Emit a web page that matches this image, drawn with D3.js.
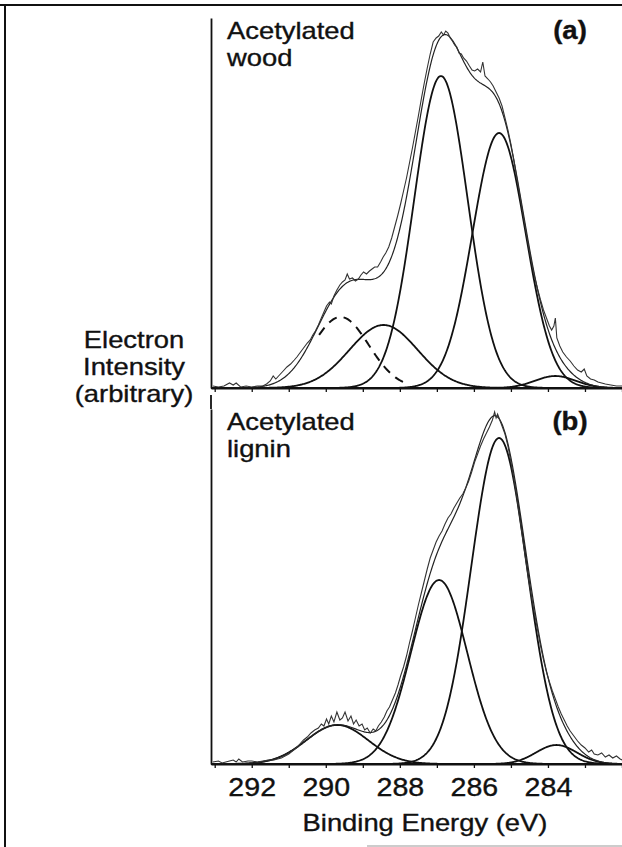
<!DOCTYPE html>
<html>
<head>
<meta charset="utf-8">
<script src="https://cdnjs.cloudflare.com/ajax/libs/d3/7.8.5/d3.min.js"></script>
<style>
body { margin: 0; background: #fff; }
svg { display: block; }
text { font-family: "Liberation Sans", Arial, Helvetica, sans-serif; fill: #111; stroke: #111; stroke-width: 0.35px; }
</style>
</head>
<body>
<svg id="chart" width="622" height="847"></svg>
<script>
// energy axis
var tickValues = [293, 292, 291, 290, 289, 288, 287, 286, 285, 284, 283, 282];
var tickLabels = [292, 290, 288, 286, 284];

// (a) acetylated wood: fitted components (centre eV, height, sigma eV)
var woodCentres = [286.89, 285.32, 288.44, 283.8];
var woodHeights = [312, 255, 63, 12];
var woodSigmas = [0.72, 0.72, 0.92, 0.55];
// dashed component and the span over which it is drawn
var woodDashedPeak = [289.6, 71, 0.76];
var woodDashedSpan = [290.2, 287.85];
// measured spectrum [eV, counts]
var woodData = [[293.05,2],[292.9,1],[292.75,2],[292.6,5],[292.5,3],[292.42,5],[292.3,1],[292.15,2],[292.0,1],[291.85,2],[291.7,2],[291.6,4],[291.5,7],[291.42,12],[291.35,9],[291.25,13],[291.15,17],[291.05,21],[290.95,24],[290.85,28],[290.78,31],[290.7,35],[290.6,40],[290.5,45],[290.42,48],[290.35,53],[290.28,57],[290.2,63],[290.12,70],[290.05,76],[289.98,82],[289.9,86],[289.85,84],[289.78,92],[289.7,98],[289.62,103],[289.55,106],[289.48,108],[289.42,114],[289.36,109],[289.28,110],[289.2,107],[289.12,109],[289.05,113],[288.98,116],[288.9,114],[288.82,117],[288.75,119],[288.68,121],[288.6,121],[288.52,126],[288.45,131],[288.38,135],[288.3,141],[288.22,150],[288.14,161],[288.06,172],[287.98,184],[287.9,197],[287.82,210],[287.74,225],[287.66,240],[287.58,256],[287.5,272],[287.42,289],[287.34,305],[287.26,320],[287.18,334],[287.1,346],[287.02,350],[286.95,352],[286.88,356],[286.82,353],[286.76,357],[286.7,355],[286.64,350],[286.58,347],[286.52,343],[286.46,341],[286.4,335],[286.34,334],[286.28,330],[286.2,327],[286.12,322],[286.05,318],[285.98,317],[285.9,319],[285.82,316],[285.76,326],[285.7,312],[285.62,309],[285.55,306],[285.48,302],[285.4,296],[285.32,290],[285.24,282],[285.16,270],[285.08,258],[285.0,244],[284.92,228],[284.84,210],[284.76,193],[284.68,175],[284.6,158],[284.52,141],[284.44,125],[284.36,111],[284.28,99],[284.2,88],[284.12,78],[284.04,70],[283.96,62],[283.9,58],[283.84,62],[283.8,70],[283.76,50],[283.68,42],[283.6,36],[283.5,31],[283.4,27],[283.3,22],[283.2,18],[283.1,16],[283.02,19],[282.95,12],[282.85,9],[282.75,8],[282.65,6],[282.55,5],[282.45,4],[282.3,3],[282.15,2],[282.0,2]];

// (b) acetylated lignin
var ligninCentres = [285.32, 286.94, 289.69, 283.77];
var ligninHeights = [326, 184, 39, 19];
var ligninSigmas = [0.75, 0.76, 0.84, 0.55];
var ligninData = [[293.05,2],[292.9,3],[292.8,1],[292.7,2],[292.6,3],[292.5,4],[292.42,2],[292.35,5],[292.25,2],[292.1,3],[292.0,3],[291.85,2],[291.7,3],[291.55,4],[291.4,4],[291.3,5],[291.2,6],[291.1,8],[291.0,10],[290.9,13],[290.8,16],[290.7,20],[290.6,24],[290.5,27],[290.4,31],[290.3,34],[290.2,36],[290.12,40],[290.05,38],[289.98,45],[289.92,40],[289.85,48],[289.78,42],[289.7,52],[289.62,44],[289.55,46],[289.48,52],[289.4,43],[289.32,48],[289.25,40],[289.18,44],[289.1,38],[289.02,40],[288.95,34],[288.88,36],[288.8,31],[288.72,35],[288.65,33],[288.58,38],[288.5,42],[288.42,47],[288.35,53],[288.28,57],[288.2,64],[288.12,71],[288.05,79],[287.98,88],[287.9,97],[287.82,108],[287.74,121],[287.66,133],[287.58,146],[287.5,159],[287.42,171],[287.34,183],[287.26,195],[287.18,206],[287.1,214],[287.02,222],[286.94,228],[286.86,233],[286.78,240],[286.7,246],[286.62,250],[286.54,256],[286.46,261],[286.38,266],[286.3,270],[286.22,276],[286.14,283],[286.06,292],[285.98,302],[285.9,310],[285.82,318],[285.74,325],[285.66,331],[285.58,337],[285.5,344],[285.44,352],[285.4,346],[285.36,350],[285.3,344],[285.24,338],[285.16,330],[285.08,318],[285.0,302],[284.92,285],[284.84,266],[284.76,246],[284.68,225],[284.6,204],[284.52,184],[284.44,166],[284.36,150],[284.28,134],[284.2,118],[284.12,104],[284.04,92],[283.96,82],[283.88,73],[283.8,65],[283.72,57],[283.64,50],[283.56,44],[283.48,38],[283.4,33],[283.3,28],[283.2,23],[283.1,19],[283.0,16],[282.9,12],[282.82,14],[282.75,10],[282.65,9],[282.55,11],[282.45,7],[282.35,9],[282.25,6],[282.15,8],[282.05,5],[282.0,4]];

var svg = d3.select("#chart");

// frame of the scanned figure
svg.append("line").attr("x1", 0).attr("y1", 5).attr("x2", 622).attr("y2", 5)
	.attr("stroke", "#111").attr("stroke-width", 2);
svg.append("line").attr("x1", 5).attr("y1", 5).attr("x2", 5).attr("y2", 847)
	.attr("stroke", "#111").attr("stroke-width", 2);
svg.append("line").attr("x1", 367).attr("y1", 846).attr("x2", 622).attr("y2", 846)
	.attr("stroke", "#bbb").attr("stroke-width", 1.5);

var x = d3.scaleLinear().domain([293.1, 282]).range([211, 622]);
var grid = d3.range(293.1, 281.98, -0.02);

function gauss(e, c, h, s) {
	return h * Math.exp(-0.5 * Math.pow((e - c) / s, 2));
}

// the scanned lettering is a little wider than Liberation Sans
function widen(sel, k) {
	sel.each(function () {
		var w = this.getComputedTextLength();
		if (w > 0) d3.select(this).attr("textLength", w * k).attr("lengthAdjust", "spacingAndGlyphs");
	});
}

function drawPanel(p) {
	var y = d3.scaleLinear().domain([0, p.ymax]).range([p.bottom, p.top]);
	var g = svg.append("g");
	var line = d3.line()
		.x(function (d) { return x(d[0]); })
		.y(function (d) { return y(d[1]); });

	// components
	p.centres.forEach(function (c, i) {
		var pts = grid.map(function (e) {
			return [e, gauss(e, c, p.heights[i], p.sigmas[i])];
		});
		g.append("path").datum(pts).attr("d", line)
			.attr("fill", "none").attr("stroke", "#111").attr("stroke-width", 1.8);
	});

	if (p.dashed) {
		var dpts = grid.filter(function (e) {
			return e <= p.dashedSpan[0] && e >= p.dashedSpan[1];
		}).map(function (e) {
			return [e, gauss(e, p.dashed[0], p.dashed[1], p.dashed[2])];
		});
		g.append("path").datum(dpts).attr("d", line)
			.attr("fill", "none").attr("stroke", "#111").attr("stroke-width", 2)
			.attr("stroke-dasharray", "9,7");
	}

	// fit envelope
	var env = grid.map(function (e) {
		var sum = 0;
		p.centres.forEach(function (c, i) { sum += gauss(e, c, p.heights[i], p.sigmas[i]); });
		if (p.dashed) sum += gauss(e, p.dashed[0], p.dashed[1], p.dashed[2]);
		return [e, sum];
	});
	g.append("path").datum(env).attr("d", line)
		.attr("fill", "none").attr("stroke", "#222").attr("stroke-width", 1.2);

	// measured spectrum
	g.append("path").datum(p.data).attr("d", line)
		.attr("fill", "none").attr("stroke", "#333").attr("stroke-width", 1.1);

	// axes
	var xAxis = d3.axisBottom(x).tickValues(tickValues).tickSize(4).tickSizeOuter(0)
		.tickPadding(10)
		.tickFormat(function (d) { return p.labels && tickLabels.indexOf(d) >= 0 ? d : ""; });
	var ax = g.append("g").attr("transform", "translate(0," + p.bottom + ")").call(xAxis);
	ax.select(".domain").attr("stroke", "#111").attr("stroke-width", 2.2);
	ax.selectAll(".tick line").attr("stroke", "#111").attr("stroke-width", 1.3);
	ax.selectAll(".tick text").attr("font-size", 26)
		.attr("font-family", "Liberation Sans, Arial, sans-serif").attr("fill", "#111");
	widen(ax.selectAll(".tick text"), 1.1);

	var yAxis = d3.axisLeft(y).ticks(0).tickSizeOuter(0);
	var ay = g.append("g").attr("transform", "translate(211,0)").call(yAxis);
	ay.select(".domain").attr("stroke", "#111").attr("stroke-width", 1.8);

	var t1 = g.append("text").attr("x", 227).attr("y", p.top + 21).attr("font-size", 24).text("Acetylated");
	var t2 = g.append("text").attr("x", 227).attr("y", p.top + 48).attr("font-size", 24).text(p.name);
	var t3 = g.append("text").attr("x", 570).attr("y", p.top + 21).attr("font-size", 25)
		.attr("font-weight", "bold").attr("text-anchor", "middle").text(p.tag);
	widen(t1, 1.14);
	widen(t2, 1.14);
	widen(t3, 1.1);
}

drawPanel({
	top: 18, bottom: 388, ymax: 370, name: "wood", tag: "(a)",
	centres: woodCentres, heights: woodHeights, sigmas: woodSigmas,
	dashed: woodDashedPeak, dashedSpan: woodDashedSpan, data: woodData, labels: false
});
drawPanel({
	top: 409, bottom: 764, ymax: 355, name: "lignin", tag: "(b)",
	centres: ligninCentres, heights: ligninHeights, sigmas: ligninSigmas,
	dashed: null, data: ligninData, labels: true
});

// left edge of panel (b) starts right under panel (a)
svg.append("line").attr("x1", 211).attr("y1", 395).attr("x2", 211).attr("y2", 409)
	.attr("stroke", "#111").attr("stroke-width", 1.8);

// axis titles
var yTitle = ["Electron", "Intensity", "(arbitrary)"];
var yt = svg.append("g").selectAll("text").data(yTitle).enter().append("text")
	.attr("x", 134).attr("y", function (d, i) { return 348 + i * 27; })
	.attr("text-anchor", "middle").attr("font-size", 24).text(function (d) { return d; });
widen(yt, 1.14);
var xt = svg.append("text").attr("x", 425).attr("y", 831).attr("text-anchor", "middle")
	.attr("font-size", 24).text("Binding Energy (eV)");
widen(xt, 1.14);
</script>
</body>
</html>
